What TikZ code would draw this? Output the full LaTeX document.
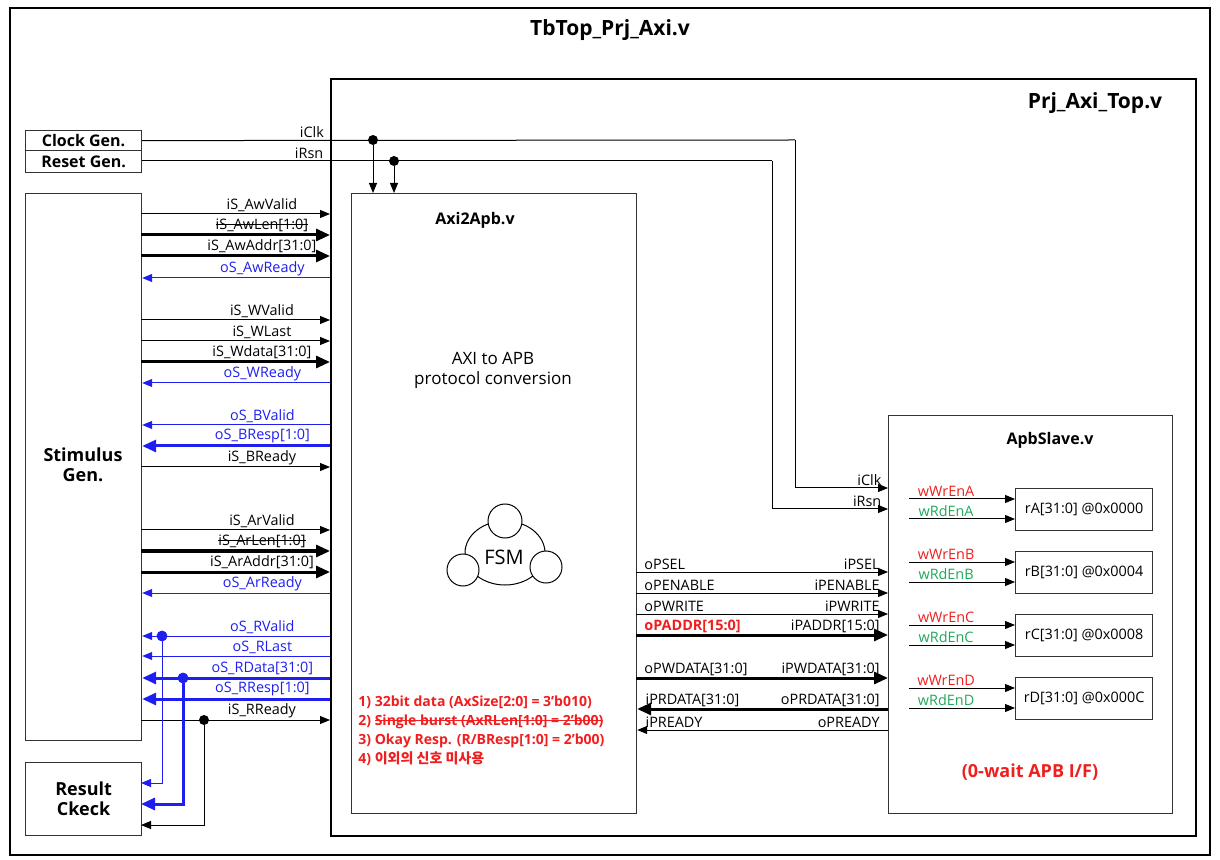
\documentclass[tikz,border=0pt]{standalone}
\usepackage{fontspec}
\setmainfont{Open Sans}
\newfontfamily\krfont{Noto Sans CJK KR}
\usetikzlibrary{arrows.meta}
\newcommand\strk[1]{\setbox0\hbox{#1}\rlap{\rule[0.55ex]{\wd0}{0.45pt}}\box0}
\definecolor{sigblue}{RGB}{30,30,240}
\definecolor{sigred}{RGB}{240,30,30}
\definecolor{siggreen}{RGB}{30,170,90}
\tikzset{
  blk/.style={draw=black!80, line width=0.6pt, fill=white},
  sig/.style={draw=black, line width=0.5pt, -{Triangle[length=5pt,width=4pt]}},
  bus/.style={draw=black, line width=1.5pt, -{Triangle[length=7pt,width=6pt]}},
  lbl/.style={font=\fontsize{7.2}{8}\selectfont, inner sep=1pt},
  ttl/.style={font=\fontsize{9}{10}\selectfont\bfseries},
  sub/.style={font=\fontsize{8}{9}\selectfont\bfseries},
  top/.style={font=\fontsize{10.5}{12}\selectfont\bfseries},
  dot/.style={circle, fill, inner sep=0pt, minimum size=5pt}
}
\begin{document}
\begin{tikzpicture}[x=0.5pt, y=-0.5pt]
	\useasboundingbox (0,0) rectangle (1220,860);
	% frames
	\draw[line width=0.6pt] (10,8) rectangle (1210,855);
	\node[top] (tbtop) at (610,30) {TbTop\_Prj\_Axi.v};
	\node[draw, line width=0.9pt, minimum width=432.5pt, minimum height=378.5pt, anchor=north west] (prj) at (330,78) {};
	\node[top] (prjtop) at (1095,103) {Prj\_Axi\_Top.v};

	% blocks
	\node[blk, minimum width=58pt, minimum height=10pt, inner sep=0pt, anchor=north west, sub] (clkgen) at (25,130) {Clock Gen.};
	\node[blk, minimum width=58pt, minimum height=11pt, inner sep=0pt, anchor=north west, sub] (rstgen) at (25,150) {Reset Gen.};
	\node[blk, minimum width=58pt, minimum height=273.5pt, anchor=north west] (stim) at (25,193) {};
	\node[ttl, align=center] (stimtxt) at (83,465) {Stimulus\\Gen.};
	\node[blk, minimum width=58pt, minimum height=36.5pt, anchor=north west, ttl, align=center] (result) at (25,762) {Result\\Ckeck};
	\node[blk, minimum width=142.5pt, minimum height=310pt, anchor=north west] (axi) at (351,193) {};
	\node[sub] (axititle) at (475,220) {Axi2Apb.v};
	\node[font=\fontsize{8.5}{10}\selectfont, align=center] (conv) at (493,370) {AXI to APB\\protocol conversion};
	\node[blk, minimum width=142pt, minimum height=199pt, anchor=north west] (apb) at (888,415) {};
	\node[sub] (apbtitle) at (1050,440) {ApbSlave.v};
	\node[font=\fontsize{9}{10}\selectfont\bfseries, text=sigred] (wait) at (1030,772) {(0-wait APB I/F)};

	% FSM symbol
	\draw[line width=0.5pt] (505,553) ellipse (40 and 32);
	\draw[line width=0.5pt, fill=white] (505,521) circle (17);
	\draw[line width=0.5pt, fill=white] (463,570) circle (16);
	\draw[line width=0.5pt, fill=white] (546,567) circle (16);
	\node[font=\fontsize{10}{11}\selectfont] (fsm) at (504,557) {FSM};

	% registers
	\foreach \r/\y/\a in {A/488/0000, B/551/0004, C/614/0008, D/677/000C}{
		\node[blk, minimum width=68.5pt, minimum height=21pt, anchor=north west, lbl] (reg\r) at (1015,\y) {r\r[31:0] @0x\a};
		\coordinate (wr\r) at (909,\y+11);
		\coordinate (rd\r) at (909,\y+31);
		\draw[sig] (wr\r) -- node[lbl, above, pos=0.35, text=sigred] {wWrEn\r} (wr\r -| reg\r.west);
		\draw[sig] (rd\r) -- node[lbl, above, pos=0.35, text=siggreen] {wRdEn\r} (rd\r -| reg\r.west);
	}

	% clock and reset
	\coordinate (clkturn) at (795,140);
	\coordinate (rstturn) at (772,161);
	\coordinate (clkin) at (888,488);
	\coordinate (rstin) at (888,509);
	\draw[line width=0.5pt] (clkgen.east) -- node[lbl, above, pos=0.26] {iClk} (clkturn);
	\draw[line width=0.5pt] (rstgen.east |- rstturn) -- node[lbl, above, pos=0.265] {iRsn} (rstturn);
	\draw[sig] (clkturn) |- node[lbl, above, pos=0.9] {iClk} (clkin);
	\draw[sig] (rstturn) |- node[lbl, above, pos=0.91] {iRsn} (rstin);
	\node[dot] (clkdot) at (373,140) {};
	\node[dot] (rstdot) at (394,161) {};
	\draw[sig] (clkdot) -- (clkdot |- axi.north);
	\draw[sig] (rstdot) -- (rstdot |- axi.north);

	% stimulus to Axi2Apb (right)
	\foreach \n/\y/\s/\t in {awv/214/sig/iS\_AwValid, awl/235/bus/\strk{iS\_AwLen[1:0]}, awa/256/bus/iS\_AwAddr[31:0],
		wv/320/sig/iS\_WValid, wl/341/sig/iS\_WLast, wd/362/bus/iS\_Wdata[31:0], br/467/sig/iS\_BReady,
		arv/530/sig/iS\_ArValid, arl/551/bus/\strk{iS\_ArLen[1:0]}, ara/572/bus/iS\_ArAddr[31:0], rr/720/sig/iS\_RReady}{
		\coordinate (\n) at (141,\y);
		\draw[\s] (\n) -- node[lbl, above, pos=0.64] {\t} (\n -| prj.west);
	}
	% Axi2Apb to stimulus (left, blue)
	\foreach \n/\y/\s/\t in {awr/278/sig/oS\_AwReady, wr/383/sig/oS\_WReady, bv/425/sig/oS\_BValid, bre/446/bus/oS\_BResp[1:0],
		arr/593/sig/oS\_ArReady, rv/636/sig/oS\_RValid, rl/656/sig/oS\_RLast, rd/678/bus/oS\_RData[31:0], rre/699/bus/oS\_RResp[1:0]}{
		\coordinate (\n) at (330,\y);
		\draw[\s, draw=sigblue] (\n) -- node[lbl, above, pos=0.36, text=sigblue] {\t} (\n -| stim.east);
	}

	% taps to result check
	\node[dot, draw=sigblue, fill=sigblue] (rvdot) at (162,636) {};
	\node[dot, draw=sigblue, fill=sigblue] (rddot) at (183,678) {};
	\node[dot] (rrdot) at (204,720) {};
	\coordinate (rvres) at (141,783);
	\coordinate (rdres) at (141,804);
	\coordinate (rrres) at (141,825);
	\draw[sig, draw=sigblue] (rvdot) |- (rvres);
	\draw[bus, draw=sigblue] (rddot) |- (rdres);
	\draw[sig] (rrdot) |- (rrres);

	% APB bus
	\foreach \n/\y/\s/\o/\i/\c in {psel/572/sig/oPSEL/iPSEL/black, pen/593/sig/oPENABLE/iPENABLE/black, pwr/614/sig/oPWRITE/iPWRITE/black,
		padd/635/bus/{\textbf{oPADDR[15:0]}}/iPADDR[15:0]/sigred, pwd/678/bus/oPWDATA[31:0]/iPWDATA[31:0]/black}{
		\coordinate (\n) at (636,\y);
		\draw[\s] (\n) -- (\n -| apb.west);
		\node[lbl, anchor=south west, text=\c] (\n o) at ([xshift=3pt]\n) {\o};
		\node[lbl, anchor=south east] (\n i) at ([xshift=-3pt]\n -| apb.west) {\i};
	}
	\foreach \n/\y/\s/\o/\i in {prd/709/bus/iPRDATA[31:0]/oPRDATA[31:0], prdy/730/sig/iPREADY/oPREADY}{
		\coordinate (\n) at (888,\y);
		\draw[\s] (\n) -- (\n -| axi.east);
		\node[lbl, anchor=south west] (\n o) at ([xshift=3pt]\n -| axi.east) {\o};
		\node[lbl, anchor=south east] (\n i) at ([xshift=-3pt]\n) {\i};
	}

	% notes
	\node[anchor=north west, text=sigred, align=left, font=\fontsize{7}{9.5}\selectfont\bfseries, inner sep=0pt] (notes) at (358,695)
		{1) 32bit data (AxSize[2:0] = 3'b010)\\
		 2) \strk{Single burst (AxRLen[1:0] = 2'b00)}\\
		 3) Okay Resp. (R/BResp[1:0] = 2'b00)\\
		 4) {\krfont 이외의 신호 미사용}};
\end{tikzpicture}
\end{document}
